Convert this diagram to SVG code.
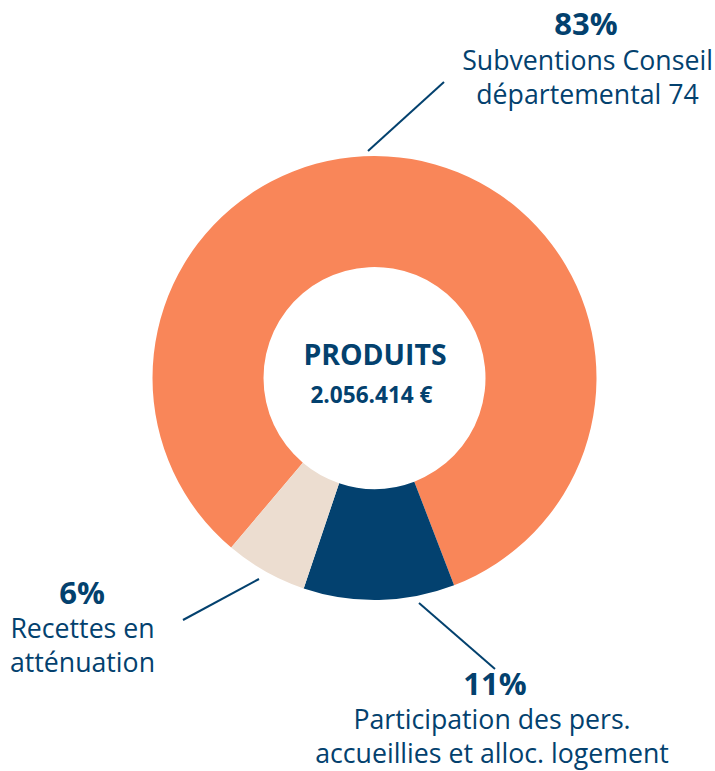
<svg xmlns="http://www.w3.org/2000/svg" width="715" height="771" viewBox="0 0 715 771">
<style>
text{font-family:"Open Sans","Noto Sans","Liberation Sans",sans-serif;fill:#03416E;text-anchor:middle}
.b{font-weight:700}
.pct{font-size:31px;font-weight:700}
.lab{font-size:26.7px}
.conn line{stroke:#03416E;stroke-width:2}
</style>
<rect width="715" height="771" fill="#fff"/>
<g id="donut">
<path id="seg-subventions" fill="#F98659" d="M 231.21 547.56 A 222 222 0 1 1 454.06 585.25 L 414.28 481.63 A 111 111 0 1 0 302.85 462.78 Z"/>
<path id="seg-participation" fill="#03416F" d="M 454.06 585.25 A 222 222 0 0 1 303.69 588.40 L 339.10 483.20 A 111 111 0 0 0 414.28 481.63 Z"/>
<path id="seg-recettes" fill="#ECDDD0" d="M 303.69 588.40 A 222 222 0 0 1 231.21 547.56 L 302.85 462.78 A 111 111 0 0 0 339.10 483.20 Z"/>
</g>
<g id="center">
<text class="b" x="375" y="365" font-size="28.4">PRODUITS</text>
<text class="b" x="371.5" y="403" font-size="22.6">2.056.414 €</text>
</g>
<g class="conn" id="connectors">
<line x1="368" y1="151" x2="444" y2="82"/>
<line x1="183" y1="620" x2="259" y2="579"/>
<line x1="419" y1="603" x2="495" y2="669"/>
</g>
<g id="label-83">
<text class="pct" x="586" y="35">83%</text>
<text class="lab" x="587.5" y="70">Subventions Conseil</text>
<text class="lab" x="587.5" y="104">départemental 74</text>
</g>
<g id="label-6">
<text class="pct" x="82" y="604">6%</text>
<text class="lab" x="82.5" y="638">Recettes en</text>
<text class="lab" x="82.5" y="672">atténuation</text>
</g>
<g id="label-11">
<text class="pct" x="495" y="695">11%</text>
<text class="lab" x="492" y="729">Participation des pers.</text>
<text class="lab" x="492" y="763">accueillies et alloc. logement</text>
</g>
</svg>
